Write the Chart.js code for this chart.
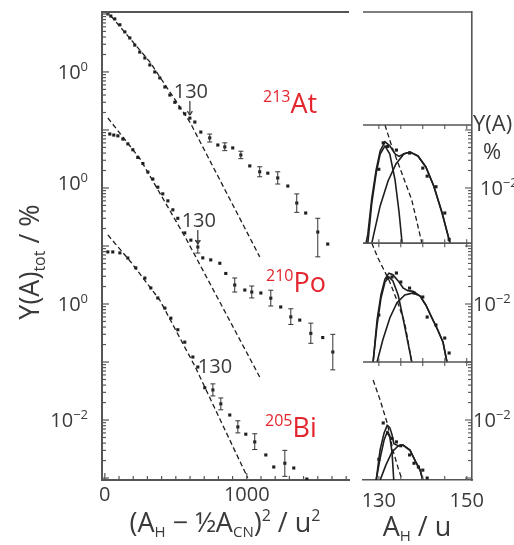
<!DOCTYPE html>
<html>
<head>
<meta charset="utf-8">
<title>Y(A) vs (A_H - A_CN/2)^2</title>
<script src="https://cdn.jsdelivr.net/npm/chart.js@4.4.1/dist/chart.umd.min.js"></script>
<style>
  html, body { margin: 0; padding: 0; background: #fff; }
  #figure { position: relative; width: 514px; height: 545px; overflow: hidden; }
  #figure canvas { position: absolute; top: 0; }
  #mainChart { left: 0; }
  #sideChart { left: 350px; }
</style>
</head>
<body>
<div id="figure">
  <canvas id="mainChart" width="360" height="545"></canvas>
  <canvas id="sideChart" width="164" height="545"></canvas>
</div>
<script>
const FONT = '"Open Sans", "DejaVu Sans", sans-serif';
const INK = '#1e1e1e';
const AXIS = '#555';
const TEXT = '#3a3a3a';
const RED = '#e3262e';

// shared log axis, curves are shifted by these factors
const Y_MIN = 9.25e-4, Y_MAX = 1.08e5;
const AT_OFF = 1e4, PO_OFF = 120, BI_OFF = 1;

// ---- main panel: x = (A_H - A_CN/2)^2, y = Y(A)tot in %
const AT_X = [21, 42, 70, 106, 141, 176, 211, 246, 282, 317, 352, 387, 423, 458, 493, 528, 563, 599, 634, 676, 739, 796, 845, 901, 958, 1021, 1091, 1148, 1218, 1289, 1352, 1415, 1500, 1570];
const AT_Y = [10, 9.2, 8.2, 6.5, 4.9, 3.85, 2.9, 2.2, 1.74, 1.32, 1.0, 0.79, 0.55, 0.40, 0.30, 0.24, 0.19, 0.16, 0.137, 0.092, 0.073, 0.055, 0.051, 0.049, 0.037, 0.024, 0.019, 0.018, 0.0149, 0.0108, 0.0055, 0.0037, 0.00174, 0.00108];
const PO_X = [35, 63, 92, 127, 162, 197, 232, 268, 303, 338, 373, 408, 444, 479, 514, 563, 606, 655, 690, 746, 810, 852, 915, 986, 1035, 1099, 1169, 1239, 1310, 1373, 1451, 1535, 1606];
const PO_Y = [7.1, 6.8, 6.6, 5.8, 4.8, 3.8, 2.8, 2.2, 1.57, 1.19, 0.86, 0.66, 0.50, 0.35, 0.25, 0.14, 0.105, 0.080, 0.052, 0.048, 0.042, 0.028, 0.0177, 0.0145, 0.0134, 0.0129, 0.0105, 0.0074, 0.0050, 0.0044, 0.0026, 0.0022, 0.00124];
const BI_X = [21, 56, 106, 162, 218, 282, 324, 373, 423, 465, 514, 563, 620, 655, 704, 761, 817, 880, 937, 993, 1056, 1134, 1190, 1268, 1331, 1423];
const BI_Y = [7.9, 7.9, 7.6, 6.2, 4.2, 2.8, 1.89, 1.27, 0.85, 0.57, 0.36, 0.22, 0.122, 0.082, 0.036, 0.033, 0.019, 0.0122, 0.0076, 0.0057, 0.0042, 0.0025, 0.00155, 0.0018, 0.00149, 0.00096];

const AT_ERR_X = [739, 845, 958, 1091, 1218, 1352, 1500];
const AT_ERR_LO = [0.062, 0.044, 0.032, 0.0156, 0.0117, 0.0038, 0.00065];
const AT_ERR_HI = [0.085, 0.060, 0.043, 0.0232, 0.019, 0.0079, 0.0030];
const PO_ERR_X = [655, 915, 1035, 1169, 1310, 1451, 1606];
const PO_ERR_LO = [0.063, 0.0134, 0.0106, 0.0077, 0.0037, 0.00175, 0.00061];
const PO_ERR_HI = [0.102, 0.0234, 0.017, 0.0144, 0.0069, 0.0039, 0.0025];
const BI_ERR_X = [761, 817, 937, 1056, 1268];
const BI_ERR_LO = [0.026, 0.015, 0.006, 0.0031, 0.00107];
const BI_ERR_HI = [0.042, 0.024, 0.0097, 0.0058, 0.0030];

// dashed symmetric-fission fits
const AT_FIT_X = [7, 317, 599, 1091];
const AT_FIT_Y = [11.7, 1.49, 0.137, 0.00065];
const PO_FIT_X = [21, 246, 570, 1091];
const PO_FIT_Y = [13.4, 2.7, 0.114, 0.00046];
const BI_FIT_X = [21, 183, 387, 634, 1007];
const BI_FIT_Y = [15.5, 5.3, 1.17, 0.085, 0.001];

// A_H = 130 markers
const MARK_X = [599, 655, 655];
const MARK_Y = [0.16, 0.080, 0.082];
const MARK_OFF = [AT_OFF, PO_OFF, BI_OFF];

const MAIN_X_TICKS = [0, 1000];
const MAIN_Y_TICKS = [1, 1, 1, 0.01];
const MAIN_Y_TICK_OFF = [AT_OFF, PO_OFF, BI_OFF, BI_OFF];
const MAIN_Y_TICK_EXP = ['0', '0', '0', '\u22122'];

// ---- side panels: x = A_H, y = Y(A) in %
const AT_S_OFF = 1e4, PO_S_OFF = 1e2, BI_S_OFF = 1;
const PANEL_EDGES = [0.122 * AT_S_OFF, 0.00112 * AT_S_OFF, 0.001 * PO_S_OFF];

const AT_A_X = [130, 131, 132, 134, 137, 140, 141, 143, 145, 146];
const AT_A_Y = [0.021, 0.060, 0.052, 0.045, 0.040, 0.022, 0.016, 0.0105, 0.0037, 0.0013];
const AT_NARROW_X = [127.5, 128.4, 129.4, 130.3, 131.4, 132.5, 133.7, 134.6, 135.3];
const AT_NARROW_Y = [0.00112, 0.0055, 0.0181, 0.0385, 0.053, 0.0385, 0.0137, 0.00385, 0.00112];
const AT_BROAD_X = [128.4, 130.3, 132.1, 133.9, 135.7, 137.1, 138.9, 140.7, 142.5, 144.4, 146.2];
const AT_BROAD_Y = [0.00112, 0.0049, 0.0132, 0.0259, 0.0385, 0.0417, 0.0356, 0.023, 0.0108, 0.0037, 0.00112];
const AT_SUM_X = [127.1, 127.5, 128.4, 129.4, 130.3, 131.4, 132.5, 133.7, 134.6, 135.7, 137.1, 138.9, 140.7, 142.5, 144.4, 146.2];
const AT_SUM_Y = [0.00112, 0.0016, 0.0066, 0.0206, 0.0434, 0.0625, 0.0535, 0.0387, 0.035, 0.039, 0.0417, 0.0356, 0.023, 0.0108, 0.0037, 0.00112];
const AT_DASH_X = [131.4, 133.0, 134.8, 137.5, 139.8];
const AT_DASH_Y = [0.122, 0.0509, 0.0221, 0.0062, 0.00112];

const PO_A_X = [130, 132, 133, 134, 135, 137, 138, 140, 141, 143, 145, 146];
const PO_A_Y = [0.00645, 0.0281, 0.0292, 0.0342, 0.0239, 0.0188, 0.0155, 0.0132, 0.00596, 0.00434, 0.00259, 0.00143];
const PO_NARROW_X = [128.7, 129.6, 130.5, 131.4, 132.3, 133.2, 134.4, 135.5, 136.6, 137.5];
const PO_NARROW_Y = [0.0010, 0.00434, 0.0127, 0.0239, 0.0292, 0.0249, 0.0143, 0.00574, 0.00221, 0.0010];
const PO_BROAD_X = [129.6, 130.9, 132.5, 134.1, 135.9, 137.8, 139.4, 140.7, 142.1, 143.4, 144.6, 145.5];
const PO_BROAD_Y = [0.0010, 0.00239, 0.00574, 0.0104, 0.0143, 0.0155, 0.0137, 0.00961, 0.00574, 0.00356, 0.00221, 0.0010];
const PO_SUM_X = [128.7, 129.6, 130.5, 131.4, 132.3, 133.2, 134.4, 135.5, 136.6, 137.8, 139.4, 140.7, 142.1, 143.4, 144.6, 145.5];
const PO_SUM_Y = [0.0010, 0.0053, 0.0146, 0.027, 0.034, 0.032, 0.025, 0.019, 0.017, 0.0165, 0.0137, 0.0096, 0.0057, 0.0036, 0.0022, 0.0010];
const PO_DASH_X = [128.4, 129.8, 131.4, 132.5, 134.1, 135.9, 137.5];
const PO_DASH_Y = [0.1125, 0.0621, 0.0356, 0.0239, 0.0117, 0.0047, 0.0010];

const BI_A_X = [130, 131, 132, 133, 134, 135, 137, 138, 139, 140, 141];
const BI_A_Y = [0.0021, 0.0089, 0.006, 0.0048, 0.0042, 0.0036, 0.0025, 0.0018, 0.00155, 0.00137, 0.0010];
const BI_NARROW_X = [129.4, 130.3, 131.2, 131.9, 132.5, 133.0, 133.4];
const BI_NARROW_Y = [0.00092, 0.00221, 0.00452, 0.00621, 0.00509, 0.00281, 0.00092];
const BI_BROAD_X = [130.3, 131.6, 133.0, 134.4, 135.5, 137.1, 138.4, 139.4, 140.0];
const BI_BROAD_Y = [0.00092, 0.00167, 0.00281, 0.00356, 0.00371, 0.00304, 0.00189, 0.00137, 0.00092];
const BI_SUM_X = [129.4, 130.3, 131.2, 131.9, 132.5, 133.0, 133.4, 134.4, 135.5, 137.1, 138.4, 139.4, 140.0];
const BI_SUM_Y = [0.00092, 0.0031, 0.006, 0.0081, 0.0074, 0.0056, 0.0039, 0.0036, 0.0037, 0.003, 0.0019, 0.00137, 0.00092];
const BI_DASH_X = [128.7, 130.3, 131.9, 133.2, 134.4, 135.3];
const BI_DASH_Y = [0.0489, 0.0221, 0.00887, 0.00303, 0.00149, 0.00092];

const SIDE_X_TICKS = [130, 150];
const SIDE_Y_TICKS = [0.01, 0.01, 0.01];
const SIDE_Y_TICK_OFF = [AT_S_OFF, PO_S_OFF, BI_S_OFF];

// ---- helpers
const pts = (xs, ys, k) => xs.map((x, i) => ({x, y: ys[i] * k}));
function bars(xs, lo, hi, k) {
    const out = [];
    xs.forEach((x, i) => { out.push({x, y: lo[i] * k}, {x, y: hi[i] * k}, {x, y: null}); });
    return out;
}
const dots = (data) => ({data, showLine: false, pointStyle: 'rect', pointRadius: 2.2,
    pointBackgroundColor: INK, pointBorderWidth: 0});
const dashed = (data) => ({data, showLine: true, borderColor: INK, borderWidth: 1.3,
    borderDash: [5, 3], pointRadius: 0});
const solid = (data) => ({data, showLine: true, borderColor: INK, borderWidth: 1.6, pointRadius: 0});
const errs = (data) => ({data, showLine: true, spanGaps: false, borderColor: '#333', borderWidth: 1,
    pointStyle: 'line', pointRadius: 2.5, pointBorderColor: '#333', pointBorderWidth: 1});

function line(ctx, x1, y1, x2, y2) {
    ctx.beginPath(); ctx.moveTo(x1, y1); ctx.lineTo(x2, y2); ctx.stroke();
}

// draws [text, size, dy] pieces on one baseline
function drawRich(ctx, parts, x, y, align) {
    let w = 0;
    parts.forEach(p => { ctx.font = `${p[1]}px ${FONT}`; w += ctx.measureText(p[0]).width; });
    let cx = align === 'center' ? x - w / 2 : align === 'right' ? x - w : x;
    ctx.textAlign = 'left';
    ctx.textBaseline = 'alphabetic';
    parts.forEach(p => {
        ctx.font = `${p[1]}px ${FONT}`;
        ctx.fillText(p[0], cx, y + (p[2] || 0));
        cx += ctx.measureText(p[0]).width;
    });
}

function logTicks(ctx, y, from, to, xEdge, dir) {
    for (let d = -4; d <= 5; d++) {
        for (let m = 1; m < 10; m++) {
            const v = m * Math.pow(10, d);
            if (v < from || v > to) continue;
            const py = y.getPixelForValue(v);
            line(ctx, xEdge, py, xEdge + dir * (m === 1 ? 7 : 4), py);
        }
    }
}

const mainDecor = {
    id: 'mainDecor',
    afterDraw(chart) {
        const {ctx, chartArea: a, scales: {x, y}} = chart;
        ctx.save();
        ctx.strokeStyle = AXIS;
        ctx.lineWidth = 2;
        line(ctx, a.left, a.top, a.right, a.top);

        // inward ticks
        ctx.lineWidth = 1.2;
        for (let v = 0; v <= x.max; v += 100) {
            const px = x.getPixelForValue(v);
            line(ctx, px, a.bottom, px, a.bottom - (v % 1000 === 0 ? 7 : 4));
        }
        logTicks(ctx, y, y.min, y.max, a.left, 1);

        // tick labels
        ctx.fillStyle = TEXT;
        MAIN_Y_TICKS.forEach((v, i) => {
            const py = y.getPixelForValue(v * MAIN_Y_TICK_OFF[i]);
            drawRich(ctx, [['10', 20], [MAIN_Y_TICK_EXP[i], 13, -8]], 88, py + 7, 'right');
        });
        MAIN_X_TICKS.forEach(v => {
            drawRich(ctx, [[String(v), 20]], x.getPixelForValue(v), 501, 'center');
        });

        // axis titles
        drawRich(ctx, [['(A', 27], ['H', 15, 5], [' \u2212 \u00BDA', 27], ['CN', 15, 5], [')', 27],
            ['2', 16, -11], [' / u', 27], ['2', 16, -11]], 225, 532, 'center');
        ctx.save();
        ctx.translate(30, 262);
        ctx.rotate(-Math.PI / 2);
        drawRich(ctx, [['Y(A)', 27], ['tot', 16, 6], [' / %', 27]], 0, 9, 'center');
        ctx.restore();

        // A_H = 130 markers
        ctx.strokeStyle = '#333';
        ctx.lineWidth = 1.2;
        MARK_X.forEach((v, i) => {
            const px = x.getPixelForValue(v);
            const py = y.getPixelForValue(MARK_Y[i] * MARK_OFF[i]);
            if (i < 2) {
                const tip = py - 3;
                line(ctx, px, tip - 14, px, tip);
                line(ctx, px - 2.5, tip - 4, px, tip);
                line(ctx, px + 2.5, tip - 4, px, tip);
                drawRich(ctx, [['130', 20]], px + 1, tip - 17, 'center');
            } else {
                drawRich(ctx, [['130', 20]], px, py + 6, 'left');
            }
        });

        // nuclide labels
        ctx.fillStyle = RED;
        drawRich(ctx, [['213', 16, -11], ['At', 27]], 263, 113, 'left');
        drawRich(ctx, [['210', 16, -11], ['Po', 27]], 266, 292, 'left');
        drawRich(ctx, [['205', 16, -11], ['Bi', 27]], 265, 437, 'left');
        ctx.restore();
    }
};

const sideDecor = {
    id: 'sideDecor',
    afterDraw(chart) {
        const {ctx, chartArea: a, scales: {x, y}} = chart;
        ctx.save();
        ctx.strokeStyle = AXIS;
        ctx.lineWidth = 1.6;
        line(ctx, a.left, a.top, a.right, a.top);
        const edges = PANEL_EDGES.map(v => y.getPixelForValue(v));
        edges.forEach(py => line(ctx, a.left, py, a.right, py));

        // inward ticks on every panel edge
        ctx.lineWidth = 1.1;
        const rows = edges.concat([a.bottom]);
        for (let v = 130; v <= x.max; v += 5) {
            const px = x.getPixelForValue(v);
            rows.forEach((py, i) => {
                if (i > 0) line(ctx, px, py, px, py - 4);
                if (i < rows.length - 1) line(ctx, px, py, px, py + 4);
            });
        }
        logTicks(ctx, y, y.min, PANEL_EDGES[0], a.right, -1);

        // labels
        ctx.fillStyle = TEXT;
        SIDE_Y_TICKS.forEach((v, i) => {
            const py = y.getPixelForValue(v * SIDE_Y_TICK_OFF[i]);
            drawRich(ctx, [['10', 20], ['\u22122', 13, -8]], a.right + (i === 0 ? 8 : 1), py + 7, 'left');
        });
        SIDE_X_TICKS.forEach(v => {
            drawRich(ctx, [[String(v), 20]], x.getPixelForValue(v), 507, 'center');
        });
        drawRich(ctx, [['Y(A)', 22]], a.right + 1, 131, 'left');
        drawRich(ctx, [['%', 22]], a.right + 20, 159, 'center');
        drawRich(ctx, [['A', 27], ['H', 15, 5], [' / u', 27]], 67, 536, 'center');
        ctx.restore();
    }
};

const noChrome = {legend: {display: false}, tooltip: {enabled: false}};

new Chart(document.getElementById('mainChart'), {
    type: 'scatter',
    data: {
        datasets: [
            dashed(pts(AT_FIT_X, AT_FIT_Y, AT_OFF)),
            dashed(pts(PO_FIT_X, PO_FIT_Y, PO_OFF)),
            dashed(pts(BI_FIT_X, BI_FIT_Y, BI_OFF)),
            errs(bars(AT_ERR_X, AT_ERR_LO, AT_ERR_HI, AT_OFF)),
            errs(bars(PO_ERR_X, PO_ERR_LO, PO_ERR_HI, PO_OFF)),
            errs(bars(BI_ERR_X, BI_ERR_LO, BI_ERR_HI, BI_OFF)),
            dots(pts(AT_X, AT_Y, AT_OFF)),
            dots(pts(PO_X, PO_Y, PO_OFF)),
            dots(pts(BI_X, BI_Y, BI_OFF))
        ]
    },
    options: {
        responsive: false,
        animation: false,
        devicePixelRatio: 1,
        layout: {padding: {left: 0, right: 11, top: 12, bottom: 0}},
        plugins: noChrome,
        scales: {
            x: {
                type: 'linear', min: -20, max: 1720,
                ticks: {display: false}, grid: {display: false},
                border: {display: true, color: AXIS, width: 2},
                afterFit: (s) => { s.height = 65; }
            },
            y: {
                type: 'logarithmic', min: Y_MIN, max: Y_MAX,
                ticks: {display: false}, grid: {display: false},
                border: {display: true, color: AXIS, width: 2},
                afterFit: (s) => { s.width = 102; }
            }
        }
    },
    plugins: [mainDecor]
});

new Chart(document.getElementById('sideChart'), {
    type: 'scatter',
    data: {
        datasets: [
            dashed(pts(AT_DASH_X, AT_DASH_Y, AT_S_OFF)),
            solid(pts(AT_NARROW_X, AT_NARROW_Y, AT_S_OFF)),
            solid(pts(AT_BROAD_X, AT_BROAD_Y, AT_S_OFF)),
            solid(pts(AT_SUM_X, AT_SUM_Y, AT_S_OFF)),
            dots(pts(AT_A_X, AT_A_Y, AT_S_OFF)),
            dashed(pts(PO_DASH_X, PO_DASH_Y, PO_S_OFF)),
            solid(pts(PO_NARROW_X, PO_NARROW_Y, PO_S_OFF)),
            solid(pts(PO_BROAD_X, PO_BROAD_Y, PO_S_OFF)),
            solid(pts(PO_SUM_X, PO_SUM_Y, PO_S_OFF)),
            dots(pts(PO_A_X, PO_A_Y, PO_S_OFF)),
            dashed(pts(BI_DASH_X, BI_DASH_Y, BI_S_OFF)),
            solid(pts(BI_NARROW_X, BI_NARROW_Y, BI_S_OFF)),
            solid(pts(BI_BROAD_X, BI_BROAD_Y, BI_S_OFF)),
            solid(pts(BI_SUM_X, BI_SUM_Y, BI_S_OFF)),
            dots(pts(BI_A_X, BI_A_Y, BI_S_OFF))
        ]
    },
    options: {
        responsive: false,
        animation: false,
        devicePixelRatio: 1,
        layout: {padding: {left: 13, right: 42, top: 12, bottom: 0}},
        plugins: noChrome,
        scales: {
            x: {
                type: 'linear', min: 126.4, max: 151.2,
                ticks: {display: false}, grid: {display: false},
                border: {display: true, color: AXIS, width: 1.6},
                afterFit: (s) => { s.height = 65; }
            },
            y: {
                type: 'logarithmic', position: 'right', min: Y_MIN, max: Y_MAX,
                ticks: {display: false}, grid: {display: false},
                border: {display: true, color: AXIS, width: 1.6},
                afterFit: (s) => { s.width = 0; }
            }
        }
    },
    plugins: [sideDecor]
});
</script>
</body>
</html>
